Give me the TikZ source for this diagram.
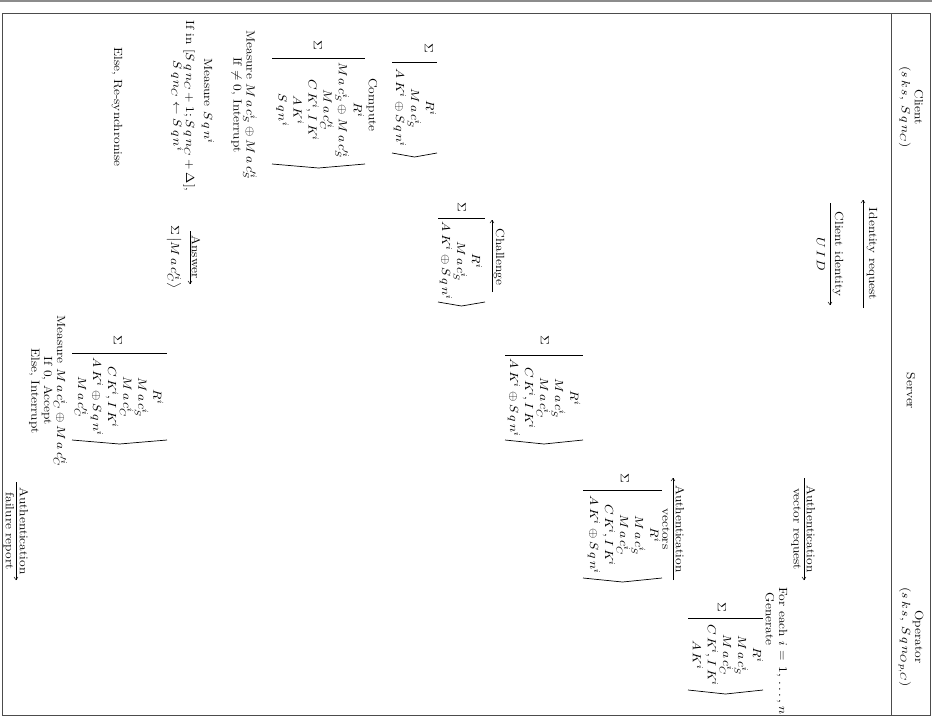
\documentclass[tikz,border=0pt]{standalone}
\usepackage{amsmath}
\usepackage{fontspec}
\usetikzlibrary{calc,arrows.meta}
\newcommand\mk{\mkern3mu}
\newcommand\Mc{M\mk a\mk c}
\newcommand\Sq{S\mk q\mk n}
\newcommand\sk{s\mk k\mk s}
\newcommand\AK{A\mk K}
\newcommand\CK{C\mk K}
\newcommand\IK{I\mk K}
\newcommand\UID{U\mk I\mk D}
\newcommand\Opc{O\mk p,C}
\tikzset{
  rt/.style={rotate=-90, xscale=1.15, align=center, inner sep=0pt, font=\fontsize{11}{12}\selectfont},
  blk/.style={rotate=-90, xscale=1.15, align=center, inner sep=0pt, font=\fontsize{11}{14}\selectfont},
  arr/.style={-{To[length=3pt,width=4pt]}, line width=0.45pt},
  brk/.style={line width=0.65pt},
  frm/.style={line width=0.9pt, draw=black!70},
}
\newcommand\brak[4]{%
  \draw[brk] (#1,#3) -- (#2,#3);
  \draw[brk] (#1,#4) -- ({(#1+#2)/2},#4+4) -- (#2,#4);}
\begin{document}
\begin{tikzpicture}[x=0.93pt,y=-0.93pt]
\useasboundingbox (0,0) rectangle (932,719);
\draw[black!45, line width=1.6pt] (0,0.8) -- (932,0.8);
\draw[frm] (2,13) rectangle (930.5,715);
\draw[frm] (891,13) -- (891,715);
% headers
\node[rt] (hc) at (911,107) {Client\\$(\sk,\mkern4mu \Sq_C)$};
\node[rt] (hs) at (911,391) {Server};
\node[rt] (ho) at (911,637) {Operator\\$(\sk,\mkern4mu \Sq_{\Opc})$};
% identity request
\node[rt] (l1) at (872,254) {Identity request};
\coordinate (a1s) at (863,308); \coordinate (a1e) at (863,200);
\draw[arr] (a1s) -- (a1e);
% client identity
\node[rt] (l2) at (838,254) {Client identity};
\coordinate (a2s) at (830,203); \coordinate (a2e) at (830,305);
\draw[arr] (a2s) -- (a2e);
\node[rt] (l2b) at (821,254) {$\UID$};
% auth vector request
\node[rt] (l3) at (811,529) {Authentication};
\coordinate (a3s) at (804,478); \coordinate (a3e) at (804,580);
\draw[arr] (a3s) -- (a3e);
\node[rt] (l3b) at (796,529) {vector request};
% operator
\node[rt] (fe) at (782,651) {For each $i\mkern2mu=\mkern2mu1,\mkern2mu\ldots,\mkern2mu n$};
\node[rt] (gen) at (770,619) {Generate};
\node[rt] (osig) at (722,607) {$\Sigma$};
\brak{688}{763}{618}{690}
\node[blk] (ob) at (728,655) {$R^i$\\$\Mc^i_S$\\$\Mc^i_C$\\$\CK^i, \IK^i$\\$\AK^i$};
% auth vectors
\node[rt] (l4) at (680,529) {Authentication};
\coordinate (a4s) at (673,580); \coordinate (a4e) at (673,478);
\draw[arr] (a4s) -- (a4e);
\node[rt] (l4b) at (666,529) {vectors};
\node[rt] (vsig) at (625,478) {$\Sigma$};
\brak{583}{662}{490}{578}
\node[blk] (vb) at (624,535) {$R^i$\\$\Mc^i_S$\\$\Mc^i_C$\\$\CK^i, \IK^i$\\$\AK^i\oplus\Sq^i$};
% server block 1
\node[rt] (s1sig) at (545,340) {$\Sigma$};
\brak{505}{583}{355}{440}
\node[blk] (s1b) at (544,398) {$R^i$\\$\Mc^i_S$\\$\Mc^i_C$\\$\CK^i, \IK^i$\\$\AK^i\oplus\Sq^i$};
% challenge
\node[rt] (l5) at (499,257) {Challenge};
\coordinate (a5s) at (492,292); \coordinate (a5e) at (492,220);
\draw[arr] (a5s) -- (a5e);
\node[rt] (csig) at (462,207) {$\Sigma$};
\brak{438}{485}{218}{302}
\node[blk] (cb) at (461,261) {$R^i$\\$\Mc^i_S$\\$\AK^i\oplus\Sq^i$};
% client block 1
\node[rt] (k1sig) at (429,48) {$\Sigma$};
\brak{392}{437}{62}{153}
\node[blk] (k1b) at (415,108) {$R^i$\\$\Mc^i_S$\\$\AK^i\oplus\Sq^i$};
% compute
\node[rt] (comp) at (372,105) {Compute};
\node[rt] (k2sig) at (318,45) {$\Sigma$};
\brak{272}{365}{58}{164}
\node[blk] (k2b) at (320,110) {$R^i$\\$\Mc^i_S\oplus\Mc'^i_S$\\$\Mc'^i_C$\\$\CK^i, \IK^i$\\$\AK^i$\\$\Sq^i$};
% measures (client)
\node[rt] (m1) at (244,105) {Measure $\Mc^i_S\oplus\Mc'^i_S$\\If $\neq 0$, Interrupt};
\node[rt] (m2) at (208,101) {Measure $\Sq^i$};
\node[rt] (m3) at (183,106) {If in $[\Sq_C+1;\Sq_C+\Delta]$,\\$\Sq_C\leftarrow\Sq^i$};
% answer
\node[rt] (l6) at (196,257) {Answer};
\coordinate (a6s) at (190,231); \coordinate (a6e) at (190,284);
\draw[arr] (a6s) -- (a6e);
\node[rt] (ans) at (174,257) {$\Sigma\left|\Mc'^i_C\right\rangle$};
% server block 2
\node[rt] (s2sig) at (118,340) {$\Sigma$};
\brak{72}{167}{353}{440}
\node[blk] (s2b) at (119,397) {$R^i$\\$\Mc^i_S$\\$\Mc^i_C$\\$\CK^i, \IK^i$\\$\AK^i\oplus\Sq^i$\\$\Mc'^i_C$};
\node[rt] (rs) at (117,107) {Else, Re-synchronise};
\node[rt] (m4) at (48,391) {Measure $\Mc^i_C\oplus\Mc'^i_C$\\If 0, Accept\\Else, Interrupt};
% failure report
\node[rt] (l7) at (24,531) {Authentication};
\coordinate (a7s) at (16,482); \coordinate (a7e) at (16,580);
\draw[arr] (a7s) -- (a7e);
\node[rt] (l7b) at (9,531) {failure report};
\end{tikzpicture}
\end{document}
